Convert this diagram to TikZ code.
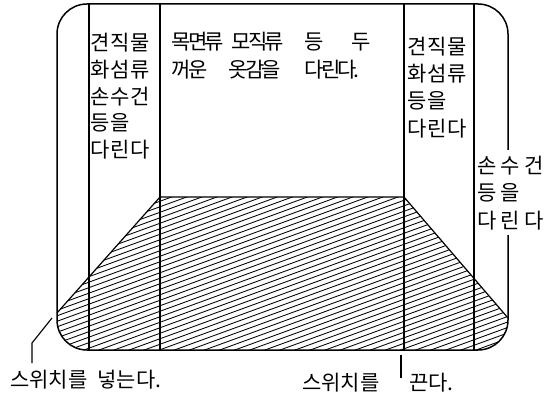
\documentclass[tikz,border=0pt]{standalone}
\usepackage{fontspec}
\newfontfamily\kr{Noto Sans CJK KR}
\tikzset{
  frame/.style={line width=1.5pt},
  divider/.style={line width=1.2pt},
  hatch/.style={line width=0.85pt},
  leader/.style={line width=1.1pt},
  lbl/.style={anchor=west, inner sep=0pt, font=\kr\fontsize{21}{21}\selectfont\addfontfeatures{LetterSpace=-14}},
  col/.style={lbl, font=\kr\fontsize{21}{21}\selectfont\addfontfeatures{LetterSpace=5}},
  wide/.style={lbl, font=\kr\fontsize{21}{21}\selectfont\addfontfeatures{LetterSpace=21}},
  bot/.style={lbl, font=\kr\fontsize{21}{21}\selectfont\addfontfeatures{LetterSpace=0}}
}
\begin{document}
\begin{tikzpicture}[x=1pt,y=-1pt]
\useasboundingbox (0,0) rectangle (557,401);
% hatching
\begin{scope}
  \clip[rounded corners=30pt] (57,4) -- (508,4) -- (508,350) -- (57,350) -- cycle;
  \clip (160,197) -- (404,197) -- (520,332) -- (520,360) -- (40,360) -- (40,332) -- cycle;
  \foreach \y in {190,195.5,...,535} \draw[hatch] (40,\y) -- (520,\y-175);
\end{scope}
% outer frame
\draw[frame, rounded corners=30pt] (508,150) -- (508,4) -- (57,4) -- (57,350) -- (508,350) -- (508,235);
% dividers
\foreach \x in {89,160,404,474} \draw[divider] (\x,4) -- (\x,350);
% trapezoid edges
\coordinate (pl) at (57,313);
\coordinate (tl) at (160,197);
\coordinate (tr) at (404,197);
\coordinate (pr) at (508,318);
\draw[divider] (pl) -- (tl) -- (tr) -- (pr);
% left column
\node[col] (l1) at (90,43) {견직물};
\node[col] (l2) at (90,70) {화섬류};
\node[col] (l3) at (90,97) {손수건};
\node[col] (l4) at (90,123) {등을};
\node[col] (l5) at (90,150) {다린다};
% middle
\node[lbl] (m1a) at (171.5,42) {목면류};
\node[lbl] (m1b) at (231.5,42) {모직류};
\node[lbl] (m1c) at (304.5,42) {등};
\node[lbl] (m1d) at (351.5,42) {두};
\node[lbl] (m2a) at (171.5,70) {꺼운};
\node[lbl] (m2b) at (228.5,70) {옷감을};
\node[lbl] (m2c) at (304.5,70) {다린다.};
% right column
\node[col] (r1) at (407,47) {견직물};
\node[col] (r2) at (407,74) {화섬류};
\node[col] (r3) at (407,101) {등을};
\node[col] (r4) at (407,129) {다린다};
% far right
\node[wide] (f1) at (477,166) {손수건};
\node[wide] (f2) at (477,193) {등을};
\node[wide] (f3) at (477,221) {다린다};
% bottom labels
\node[bot] (on) at (10,380) {스위치를\hspace{10pt}넣는다.};
\node[bot] (off1) at (302,383) {스위치를};
\node[bot] (off2) at (409,383) {끈다.};
% leaders
\coordinate (la) at (52,318);
\coordinate (lb) at (32,343);
\coordinate (lc) at (32,363);
\draw[leader] (la) -- (lb) -- (lc);
\coordinate (ra) at (401,355);
\coordinate (rb) at (401,378);
\draw[leader] (ra) -- (rb);
\end{tikzpicture}
\end{document}
